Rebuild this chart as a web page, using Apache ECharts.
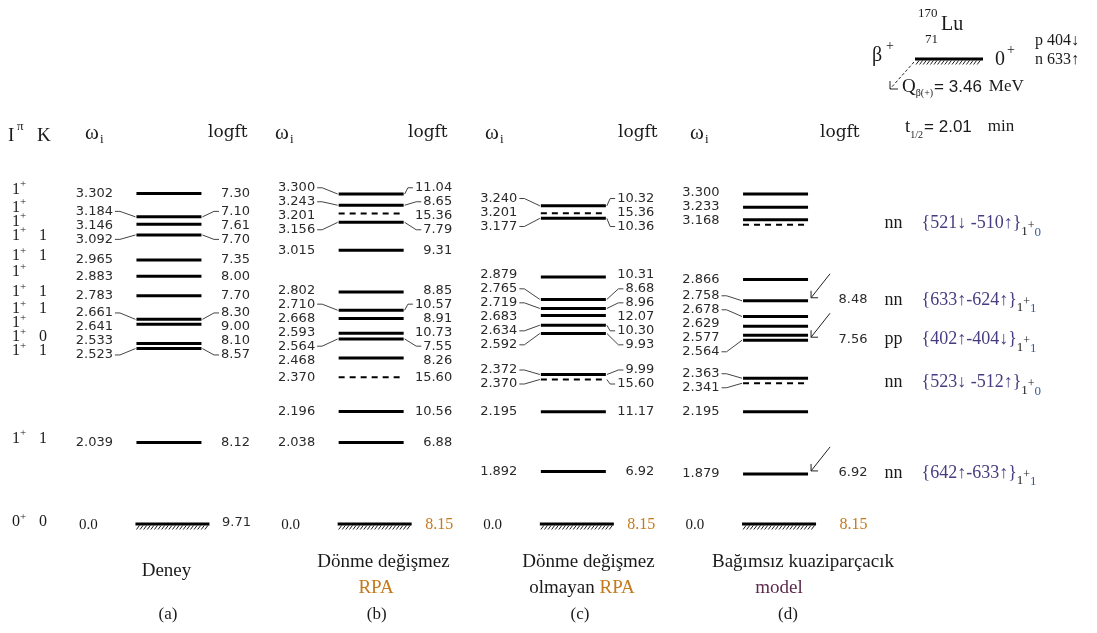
<!DOCTYPE html>
<html><head><meta charset="utf-8">
<script src="https://cdn.jsdelivr.net/npm/echarts@6/dist/echarts.min.js"></script>
<style>html,body{margin:0;padding:0;background:#fff}#c{width:1097px;height:633px}</style>
</head><body><div id="c"></div>
<script>
// ================= DATA =================
const panelNames = ['(a)', '(b)', '(c)', '(d)'];
const titleLine1 = ['Deney', 'Dönme değişmez', 'Dönme değişmez', 'Bağımsız kuaziparçacık'];
const titleLine2 = ['', 'RPA', 'olmayan RPA', 'model'];

// (a) experiment
const expEnergy = [3.302, 3.184, 3.146, 3.092, 2.965, 2.883, 2.783, 2.661, 2.641, 2.533, 2.523, 2.039];
const expLogft  = ['7.30', '7.10', '7.61', '7.70', '7.35', '8.00', '7.70', '8.30', '9.00', '8.10', '8.57', '8.12'];
const expSpin   = ['1+', '1+', '1+', '1+', '1+', '1+', '1+', '1+', '1+', '1+', '1+', '1+'];
const expK      = ['', '', '', '1', '1', '', '1', '1', '', '0', '1', '1'];

// (b) rotationally invariant RPA
const rpaEnergy = [3.300, 3.243, 3.201, 3.156, 3.015, 2.802, 2.710, 2.668, 2.593, 2.564, 2.468, 2.370, 2.196, 2.038];
const rpaLogft  = ['11.04', '8.65', '15.36', '7.79', '9.31', '8.85', '10.57', '8.91', '10.73', '7.55', '8.26', '15.60', '10.56', '6.88'];
const rpaDashed = [0, 0, 1, 0, 0, 0, 0, 0, 0, 0, 0, 1, 0, 0];

// (c) non-invariant RPA
const nrpaEnergy = [3.240, 3.201, 3.177, 2.879, 2.765, 2.719, 2.683, 2.634, 2.592, 2.372, 2.370, 2.195, 1.892];
const nrpaLogft  = ['10.32', '15.36', '10.36', '10.31', '8.68', '8.96', '12.07', '10.30', '9.93', '9.99', '15.60', '11.17', '6.92'];
const nrpaDashed = [0, 1, 0, 0, 0, 0, 0, 0, 0, 0, 1, 0, 0];

// (d) independent quasiparticle model
const qpEnergy  = [3.300, 3.233, 3.168, 3.146, 2.866, 2.758, 2.678, 2.629, 2.577, 2.564, 2.363, 2.341, 2.195, 1.879];
const qpLabeled = [1, 1, 1, 0, 1, 1, 1, 1, 1, 1, 1, 1, 1, 1];
const qpLogft   = ['', '', '', '', '', '8.48', '', '', '', '7.56', '', '', '', '6.92'];
const qpDashed  = [0, 0, 0, 1, 0, 0, 0, 0, 0, 0, 0, 1, 0, 0];
const qpArrow   = [0, 0, 0, 0, 0, 1, 0, 0, 0, 1, 0, 0, 0, 1];
const qpCfgType = ['', '', '', 'nn', '', 'nn', '', '', '', 'pp', '', 'nn', '', 'nn'];
const qpCfg     = ['', '', '', '{521↓ -510↑}', '', '{633↑-624↑}', '', '', '', '{402↑-404↓}', '', '{523↓ -512↑}', '', '{642↑-633↑}'];
const qpCfgK    = ['', '', '', '0', '', '1', '', '', '', '1', '', '0', '', '1'];

// ground state 0+ of 170Yb
const groundEnergy = 0.0;
const groundLogft = ['9.71', '8.15', '8.15', '8.15'];
const groundSpin = '0+';
const groundK = '0';

// ================= BUILD =================
const ones = a => a.map(() => 1), zeros = a => a.map(() => 0);
const panels = [
  {E: expEnergy, logft: expLogft, dashed: zeros(expEnergy), labeled: ones(expEnergy), arrow: zeros(expEnergy)},
  {E: rpaEnergy, logft: rpaLogft, dashed: rpaDashed, labeled: ones(rpaEnergy), arrow: zeros(rpaEnergy)},
  {E: nrpaEnergy, logft: nrpaLogft, dashed: nrpaDashed, labeled: ones(nrpaEnergy), arrow: zeros(nrpaEnergy)},
  {E: qpEnergy, logft: qpLogft, dashed: qpDashed, labeled: qpLabeled, arrow: qpArrow}
];

const ctx = document.createElement('canvas').getContext('2d');
function tw(t, f) { ctx.font = f; return ctx.measureText(t).width; }
const S = n => n + "px 'Liberation Serif', serif";
const DS = n => n + "px 'DejaVu Serif', serif";
const NUM = "13px 'DejaVu Sans', sans-serif";
const SANS = n => n + "px 'Liberation Sans', sans-serif";
const INK = '#1a1a1a', NUMC = '#2a2a2a', ORANGE = '#c47a1c', MAROON = '#5c2a4c', CFGC = '#463c80';

function T(text, x, y, font, fill, align) {
  return {type: 'text', x: x, y: y, silent: true,
    style: {text: text, font: font, fill: fill || INK, align: align || 'left', verticalAlign: 'middle'}};
}
function runs(x, y, parts, align) {
  let total = 0;
  parts.forEach(p => total += (p.pre || 0) + tw(p.t, p.font));
  let cx = align === 'right' ? x - total : align === 'center' ? x - total / 2 : x;
  return parts.map(p => {
    cx += p.pre || 0;
    const el = T(p.t, cx, y + (p.dy || 0), p.font, p.fill);
    cx += tw(p.t, p.font);
    return el;
  });
}
function L(x1, y1, x2, y2, w, dash, col) {
  return {type: 'line', silent: true, shape: {x1: x1, y1: y1, x2: x2, y2: y2},
    style: {stroke: col || '#000', lineWidth: w, lineDash: dash || null}};
}
function P(points, w) {
  return {type: 'polyline', silent: true, shape: {points: points}, style: {stroke: '#444', lineWidth: w || 1, fill: 'none'}};
}
function hatched(x1, x2, y) {
  const els = [L(x1, y, x2, y, 3)];
  for (let x = x1 + 4; x <= x2; x += 3.6) els.push(L(x, y + 1.5, x - 3, y + 5.5, 0.9));
  return els;
}
function spread(ys, gap) {
  const idx = ys.map((y, i) => i).sort((a, b) => ys[a] - ys[b]);
  let groups = idx.map(i => ({items: [i], sum: ys[i]}));
  const top = g => g.sum / g.items.length - (g.items.length - 1) * gap / 2;
  let changed = true;
  while (changed) {
    changed = false;
    for (let k = 0; k < groups.length - 1; k++) {
      const a = groups[k], b = groups[k + 1];
      const aBot = top(a) + (a.items.length - 1) * gap;
      if (top(b) - aBot < gap - 1e-6) {
        groups.splice(k, 2, {items: a.items.concat(b.items), sum: a.sum + b.sum});
        changed = true; break;
      }
    }
  }
  const out = [];
  groups.forEach(g => { const t = top(g); g.items.forEach((i, j) => out[i] = t + j * gap); });
  return out;
}

const BAR_HALF = 32.5;
function layoutPanel(p, api) {
  const Pn = panels[p];
  const cx = api.coord([p, Pn.E[0]])[0];
  const ys = spread(Pn.E.map(e => api.coord([p, e])[1]), 5);
  const labIdx = Pn.E.map((e, i) => i).filter(i => Pn.labeled[i]);
  const lys = spread(labIdx.map(i => ys[i]), 14);
  const ly = [];
  labIdx.forEach((i, k) => ly[i] = lys[k]);
  // spin/K column (panel a only): own spacing, slightly raised
  const sy = p === 0 ? spread(ly.map(v => v - 4), 14) : [];
  return {cx: cx, ys: ys, ly: ly, sy: sy};
}

function renderLevel(params, api) {
  const p = api.value(0), i = api.value(2);
  const Pn = panels[p];
  const lay = layoutPanel(p, api);
  const cx = lay.cx, y = lay.ys[i];
  const x1 = cx - BAR_HALF, x2 = cx + BAR_HALF;
  const ch = [];
  if (Pn.dashed[i]) ch.push(L(x1, y, x2, y, 2, [6, 5]));
  else ch.push(L(x1, y, x2, y, 3));
  if (Pn.labeled[i]) {
    const ly = lay.ly[i];
    const txt = Pn.E[i].toFixed(3);
    const lr = cx - 56;
    ch.push(T(txt, lr, ly, NUM, NUMC, 'right'));
    if (Math.abs(ly - y) > 3) ch.push(P([[lr + 2, ly], [lr + 7, ly], [x1 - 1, y]]));
    const lg = Pn.logft[i];
    if (lg) {
      if (p === 3) {
        ch.push(T(lg, cx + 63, y - 1, NUM, NUMC, 'left'));
      } else {
        const rr = cx + 81;
        ch.push(T(lg, rr, ly, NUM, NUMC, 'right'));
        if (Math.abs(ly - y) > 3) {
          const st = rr - tw(lg, NUM) - 2;
          ch.push(P([[x2 + 1, y], [st - 5, ly], [st, ly]]));
        }
      }
    }
    if (p === 0) {
      const sp = expSpin[i], yy = lay.sy[i];
      ch.push(...runs(12, yy, [{t: sp.slice(0, -1), font: S(16)}, {t: sp.slice(-1), font: S(11), dy: -5}], 'left'));
      if (expK[i]) ch.push(T(expK[i], 39, yy, S(16)));
    }
  }
  if (Pn.arrow[i]) {
    const tx = x2 + 3, ty = y - 3;
    ch.push(L(tx, ty, tx + 19, ty - 24, 1, null, '#222'));
    ch.push(L(tx, ty, tx, ty - 7, 1, null, '#222'));
    ch.push(L(tx, ty, tx + 7, ty, 1, null, '#222'));
  }
  if (p === 3 && qpCfgType[i]) {
    const cy = y - 1;
    ch.push(T(qpCfgType[i], cx + 109, cy, S(18)));
    ch.push(...runs(cx + 146, cy, [
      {t: qpCfg[i], font: S(18), fill: CFGC},
      {t: '1', font: S(13), dy: 8, fill: INK},
      {t: '+', font: S(12), dy: 2, fill: INK},
      {t: qpCfgK[i], font: S(13), dy: 9, fill: '#3a5a9a'}
    ], 'left'));
  }
  return {type: 'group', children: ch};
}

function renderGround(params, api) {
  const p = api.value(0);
  const c = api.coord([p, api.value(1)]);
  const cx = c[0], y = c[1];
  const ch = hatched(cx - 33.5, cx + 40.5, y);
  ch.push(T(groundEnergy.toFixed(1), cx - 90, y + 1, S(15)));
  const lg = groundLogft[p];
  if (p === 0) ch.push(T(lg, cx + 82, y - 1, NUM, NUMC, 'right'));
  else if (p === 3) ch.push(T(lg, cx + 64, y + 1, S(16), ORANGE, 'left'));
  else ch.push(T(lg, cx + 82, y + 1, S(16), ORANGE, 'right'));
  if (p === 0) {
    ch.push(...runs(12, y - 2, [{t: groundSpin.slice(0, -1), font: S(16)}, {t: groundSpin.slice(-1), font: S(11), dy: -5}], 'left'));
    ch.push(T(groundK, 39, y - 2, S(16)));
  }
  return {type: 'group', children: ch};
}

const levelData = [];
panels.forEach((Pn, p) => Pn.E.forEach((e, i) => levelData.push({value: [p, e, i]})));
const groundData = panelNames.map((n, p) => ({value: [p, groundEnergy]}));

// ---- static texts (headers, titles, decay header) ----
const G = [];
G.push(T('I', 8, 136, S(19)), T('π', 17, 127, S(13)), T('K', 37, 136, S(19)));
[85, 275, 485, 690].forEach(x => { G.push(T('ω', x, 133, S(21)), T('i', x + 15, 140, S(13))); });
[208, 408, 618, 820].forEach(x => G.push(T('logft', x, 133, DS(17))));

const title1X = [166.5, 383.5, 588.5, 803], title1Y = [571, 562, 562, 562];
const title2X = [0, 376, 582, 779];
const capX = [168, 376.7, 580, 788];
panelNames.forEach((n, p) => {
  G.push(T(titleLine1[p], title1X[p], title1Y[p], S(19), INK, 'center'));
  const t2 = titleLine2[p];
  if (t2) {
    if (t2.indexOf('RPA') >= 0) {
      const pre = t2.replace('RPA', '');
      const parts = [];
      if (pre) parts.push({t: pre, font: S(19)});
      parts.push({t: 'RPA', font: S(19), fill: ORANGE});
      G.push(...runs(title2X[p], 588, parts, 'center'));
    } else {
      G.push(T(t2, title2X[p], 588, S(19), MAROON, 'center'));
    }
  }
  G.push(T(n, capX[p], 615, S(17), INK, 'center'));
});

// decay header (170Lu)
G.push(T('170', 918, 14, S(13)), T('Lu', 941, 25, S(20)), T('71', 925, 40, S(13)));
G.push(T('β', 872, 56, S(20)), T('+', 886, 46, S(14)));
G.push(...hatched(915, 983, 59));
G.push(T('0', 995, 60, S(20)), T('+', 1007, 50, S(14)));
G.push(T('p 404↓', 1035, 41, S(16)), T('n 633↑', 1035, 60, S(16)));
G.push(L(914, 62, 890, 89, 1, [3, 2], '#222'), L(890, 89, 890, 81, 1, null, '#222'), L(890, 89, 898, 89, 1, null, '#222'));
G.push(...runs(902, 87, [
  {t: 'Q', font: S(19)}, {t: 'β(+)', font: S(10), dy: 6},
  {t: '= 3.46', font: SANS(17), pre: 1}, {t: 'MeV', font: S(17), pre: 7}
], 'left'));
G.push(...runs(905, 127, [
  {t: 't', font: S(19)}, {t: '1/2', font: S(10), dy: 8},
  {t: '= 2.01', font: SANS(17), pre: 1}, {t: 'min', font: S(17), pre: 16}
], 'left'));

const chart = echarts.init(document.getElementById('c'));
chart.setOption({
  animation: false,
  backgroundColor: '#ffffff',
  grid: [
    {left: 67.85, width: 808.8, top: 174.3, height: 315.2},
    {left: 67.85, width: 808.8, top: 514, height: 20}
  ],
  xAxis: [
    {type: 'category', data: panelNames, gridIndex: 0, show: false},
    {type: 'category', data: panelNames, gridIndex: 1, show: false}
  ],
  yAxis: [
    {type: 'value', gridIndex: 0, min: 1.8, max: 3.4, show: false},
    {type: 'value', gridIndex: 1, min: -0.1, max: 0.1, show: false}
  ],
  series: [
    {type: 'custom', name: 'levels', xAxisIndex: 0, yAxisIndex: 0, renderItem: renderLevel,
     data: levelData, encode: {x: 0, y: 1}, clip: false, silent: true},
    {type: 'custom', name: 'ground', xAxisIndex: 1, yAxisIndex: 1, renderItem: renderGround,
     data: groundData, encode: {x: 0, y: 1}, clip: false, silent: true}
  ],
  graphic: G
});
</script></body></html>
